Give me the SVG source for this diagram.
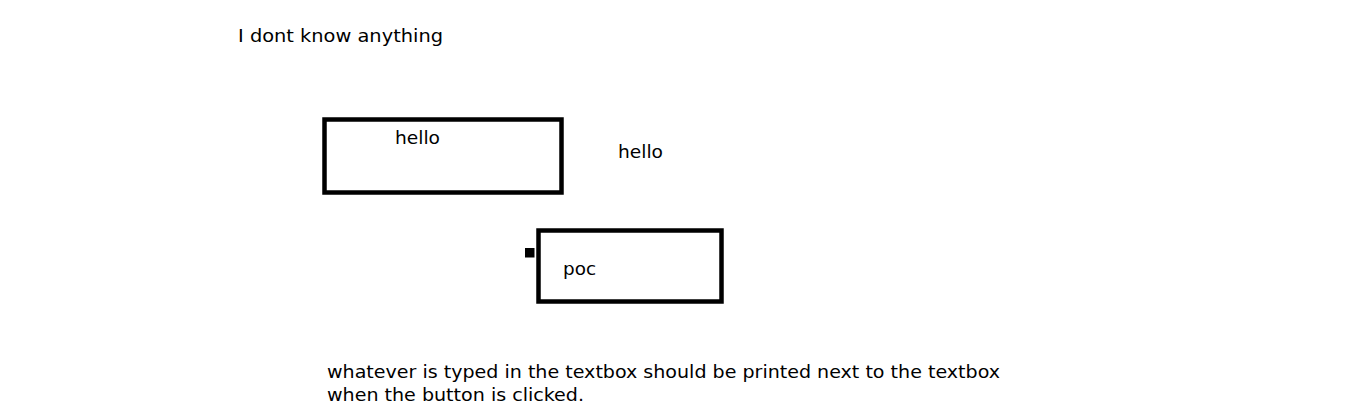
<svg xmlns="http://www.w3.org/2000/svg" width="1360" height="420" viewBox="0 0 1360 420">
<style>
text{font-family:"DejaVu Sans",sans-serif;font-size:18.5px;fill:#000}
.box{fill:#fff;stroke:#000;stroke-width:4.5}
</style>
<rect width="1360" height="420" fill="#fff"/>
<g id="title"><text x="238" y="41.5" textLength="205" lengthAdjust="spacingAndGlyphs">I dont know anything</text></g>
<g id="textbox"><rect class="box" x="324.5" y="119.5" width="237" height="73"/><text x="395" y="144" textLength="45" lengthAdjust="spacingAndGlyphs">hello</text></g>
<g id="output"><text x="618" y="158" textLength="45" lengthAdjust="spacingAndGlyphs">hello</text></g>
<g id="button"><rect class="box" x="538.5" y="230.5" width="183" height="71"/><text x="563" y="275" textLength="33" lengthAdjust="spacingAndGlyphs">poc</text></g>
<g id="port"><rect x="525" y="248" width="9.5" height="9.5" fill="#000"/></g>
<g id="note"><text x="327" y="377.5" textLength="673" lengthAdjust="spacingAndGlyphs">whatever is typed in the textbox should be printed next to the textbox</text><text x="327" y="400.5" textLength="257" lengthAdjust="spacingAndGlyphs">when the button is clicked.</text></g>
<g id="connectors"></g>
</svg>
